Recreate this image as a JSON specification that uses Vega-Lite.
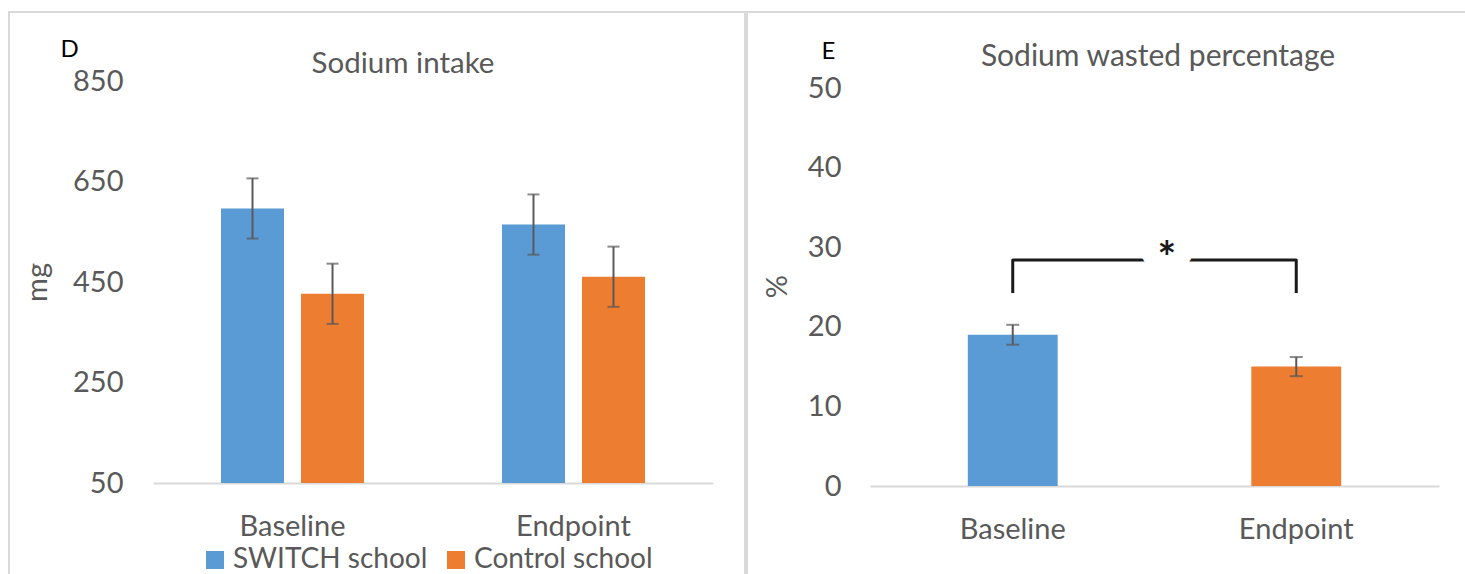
{
  "$schema": "https://vega.github.io/schema/vega-lite/v6.json",
  "padding": {"left": 8, "top": 11, "right": 0, "bottom": 0},
  "spacing": 0,
  "config": {
    "view": {"stroke": "#d9d9d9", "strokeWidth": 2},
    "font": "Lato",
    "axis": {"grid": false}
  },
  "resolve": {"scale": {"color": "independent", "x": "independent", "y": "independent", "xOffset": "independent"}},
  "hconcat": [
    {
      "width": 736,
      "height": 565,
      "title": {"text": "Sodium intake", "anchor": "middle", "frame": "group", "dx": 26, "offset": -81, "baseline": "middle", "fontSize": 29.5, "font": "Lato", "fontWeight": "normal", "color": "#595959"},
      "data": {"values": [
        {"time": "Baseline", "school": "SWITCH school", "mean": 597, "lo": 537, "hi": 657},
        {"time": "Baseline", "school": "Control school", "mean": 427, "lo": 367, "hi": 487},
        {"time": "Endpoint", "school": "SWITCH school", "mean": 565, "lo": 505, "hi": 625},
        {"time": "Endpoint", "school": "Control school", "mean": 461, "lo": 401, "hi": 521}
      ]},
      "encoding": {
        "x": {
          "field": "time", "type": "nominal",
          "scale": {"range": [144, 704], "paddingInner": 0.491, "paddingOuter": 0.242},
          "axis": {
            "title": "D", "titleX": 60, "titleY": -434, "titleAngle": 0, "titleAlign": "center", "titleBaseline": "middle",
            "titleFontSize": 24, "titleColor": "#000000", "titleFontWeight": "normal", "titleFont": "Lato",
            "offset": -94, "domainColor": "#d9d9d9", "domainWidth": 2, "ticks": false, "tickSize": 0,
            "labelPadding": 43, "labelBaseline": "middle", "labelAngle": 0, "labelFontSize": 29, "labelColor": "#595959", "labelFont": "Lato"
          }
        },
        "xOffset": {"field": "school", "type": "nominal", "scale": {"domain": ["SWITCH school", "Control school"], "paddingInner": 0.2125, "paddingOuter": 0}}
      },
      "layer": [
        {
          "mark": {"type": "bar"},
          "encoding": {
            "y": {
              "field": "mean", "type": "quantitative", "title": "mg",
              "scale": {"domain": [50, 850], "range": [471, 69.5], "zero": false, "nice": false},
              "axis": {
                "offset": -114, "domain": false, "ticks": false, "tickSize": 0, "labelPadding": 0,
                "values": [50, 250, 450, 650, 850], "labelFontSize": 29, "labelColor": "#595959", "labelFont": "Lato",
                "titleX": -86, "titleY": 270, "titleAngle": -90, "titleAlign": "center", "titleBaseline": "middle",
                "titleFontSize": 29, "titleColor": "#595959", "titleFontWeight": "normal", "titleFont": "Lato"
              }
            },
            "y2": {"datum": 50},
            "color": {
              "field": "school", "type": "nominal",
              "scale": {"domain": ["SWITCH school", "Control school"], "range": ["#5B9BD5", "#ED7D31"]},
              "legend": {
                "orient": "none", "legendX": 192, "legendY": 534, "direction": "horizontal", "title": null,
                "symbolType": "square", "symbolSize": 324, "symbolStrokeWidth": 0,
                "labelFontSize": 28, "labelColor": "#595959", "labelFont": "Lato", "labelOffset": 4, "labelLimit": 0,
                "columnPadding": 14, "padding": 0
              }
            }
          }
        },
        {
          "mark": {"type": "rule", "color": "#595959", "strokeWidth": 2},
          "encoding": {
            "y": {"field": "lo", "type": "quantitative", "title": "mg"},
            "y2": {"field": "hi"}
          }
        },
        {
          "mark": {"type": "tick", "color": "#595959", "thickness": 2, "size": 12},
          "encoding": {"y": {"field": "lo", "type": "quantitative", "title": "mg"}}
        },
        {
          "mark": {"type": "tick", "color": "#595959", "thickness": 2, "size": 12},
          "encoding": {"y": {"field": "hi", "type": "quantitative", "title": "mg"}}
        }
      ]
    },
    {
      "width": 722,
      "height": 565,
      "title": {"text": "Sodium wasted percentage", "anchor": "middle", "frame": "group", "dx": 50, "offset": -75, "baseline": "middle", "fontSize": 30, "font": "Lato", "fontWeight": "normal", "color": "#595959"},
      "encoding": {
        "x": {
          "field": "time", "type": "nominal",
          "scale": {"range": [123, 692], "paddingInner": 0.683, "paddingOuter": 0.345},
          "axis": {
            "title": "E", "titleX": 81, "titleY": -435, "titleAngle": 0, "titleAlign": "center", "titleBaseline": "middle",
            "titleFontSize": 24, "titleColor": "#000000", "titleFontWeight": "normal", "titleFont": "Lato",
            "offset": -91, "domainColor": "#d9d9d9", "domainWidth": 2, "ticks": false, "tickSize": 0,
            "labelPadding": 43, "labelBaseline": "middle", "labelAngle": 0, "labelFontSize": 29, "labelColor": "#595959", "labelFont": "Lato"
          }
        }
      },
      "layer": [
        {
          "data": {"values": [
            {"time": "Baseline", "mean": 19.0, "lo": 17.75, "hi": 20.25},
            {"time": "Endpoint", "mean": 15.0, "lo": 13.8, "hi": 16.2}
          ]},
          "layer": [
            {
              "mark": {"type": "bar"},
              "encoding": {
                "y": {
                  "field": "mean", "type": "quantitative", "title": "%",
                  "scale": {"domain": [0, 50], "range": [474, 76], "nice": false},
                  "axis": {
                    "offset": -94, "domain": false, "ticks": false, "tickSize": 0, "labelPadding": 0,
                    "values": [0, 10, 20, 30, 40, 50], "labelFontSize": 29, "labelColor": "#595959", "labelFont": "Lato",
                    "titleX": -64, "titleY": 274, "titleAngle": -90, "titleAlign": "center", "titleBaseline": "middle",
                    "titleFontSize": 29, "titleColor": "#595959", "titleFontWeight": "normal", "titleFont": "Lato"
                  }
                },
                "color": {
                  "field": "time", "type": "nominal",
                  "scale": {"domain": ["Baseline", "Endpoint"], "range": ["#5B9BD5", "#ED7D31"]},
                  "legend": null
                }
              }
            },
            {
              "mark": {"type": "rule", "color": "#595959", "strokeWidth": 2},
              "encoding": {
                "y": {"field": "lo", "type": "quantitative", "title": "%"},
                "y2": {"field": "hi"}
              }
            },
            {
              "mark": {"type": "tick", "color": "#595959", "thickness": 2, "size": 13},
              "encoding": {"y": {"field": "lo", "type": "quantitative", "title": "%"}}
            },
            {
              "mark": {"type": "tick", "color": "#595959", "thickness": 2, "size": 13},
              "encoding": {"y": {"field": "hi", "type": "quantitative", "title": "%"}}
            }
          ]
        },
        {
          "data": {"values": [
            {"time": "Baseline", "pos": 24.25, "step": 1},
            {"time": "Baseline", "pos": 28.4, "step": 2},
            {"time": "Endpoint", "pos": 28.4, "step": 3},
            {"time": "Endpoint", "pos": 24.25, "step": 4}
          ]},
          "mark": {"type": "line", "color": "#1a1a1a", "strokeWidth": 3, "strokeJoin": "round"},
          "encoding": {
            "y": {"field": "pos", "type": "quantitative", "title": "%"},
            "order": {"field": "step", "type": "quantitative"}
          }
        },
        {
          "data": {"values": [{"time": "Baseline", "pos": 26.7, "label": "*"}]},
          "mark": {"type": "text", "dx": 154, "baseline": "alphabetic", "align": "center", "fontSize": 44, "fontWeight": "bold", "font": "Lato", "fill": "#ffffff", "stroke": "#ffffff", "strokeWidth": 38, "strokeJoin": "round"},
          "encoding": {
            "y": {"field": "pos", "type": "quantitative", "title": "%"},
            "text": {"field": "label"}
          }
        },
        {
          "data": {"values": [{"time": "Baseline", "pos": 26.7, "label": "*"}]},
          "mark": {"type": "text", "dx": 154, "baseline": "alphabetic", "align": "center", "fontSize": 44, "fontWeight": "bold", "font": "Lato", "fill": "#1a1a1a"},
          "encoding": {
            "y": {"field": "pos", "type": "quantitative", "title": "%"},
            "text": {"field": "label"}
          }
        }
      ]
    }
  ]
}
